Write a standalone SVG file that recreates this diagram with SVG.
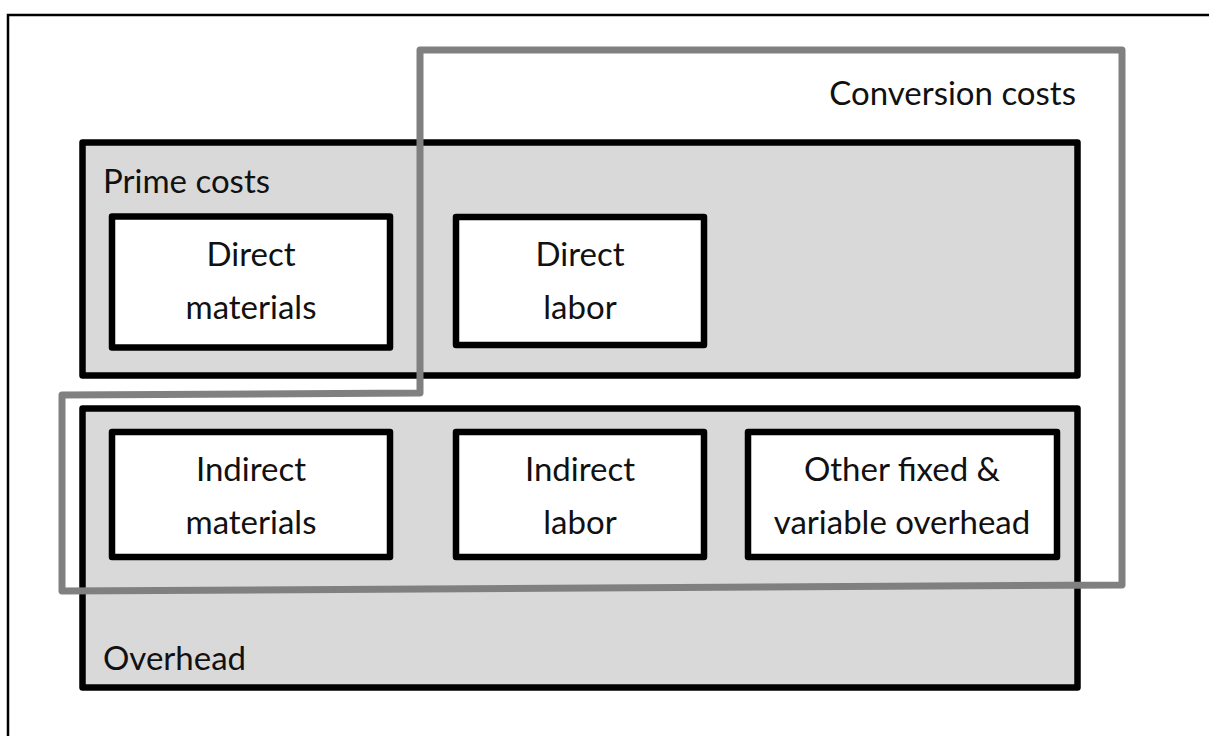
<svg xmlns="http://www.w3.org/2000/svg" width="1209" height="736" viewBox="0 0 1209 736">
<style>
.grp{fill:#d9d9d9;stroke:#000;stroke-width:6.5;stroke-linejoin:round}
.box{fill:#fff;stroke:#000;stroke-width:6.5;stroke-linejoin:round}
.t{font-family:Lato,"Open Sans",sans-serif;font-size:33px;fill:#111}
.c{text-anchor:middle}
.conv{fill:none;stroke:#808080;stroke-width:7;stroke-linejoin:round}
</style>
<rect x="0" y="0" width="1209" height="736" fill="#fff"/>
<g id="frame">
<path d="M8,736 V15 H1209" fill="none" stroke="#000" stroke-width="2.5"/>
</g>
<g id="prime-costs">
<rect class="grp" x="82.5" y="142.5" width="995" height="233"/>
<text class="t" x="103" y="193">Prime costs</text>
</g>
<g id="overhead">
<rect class="grp" x="82.5" y="408.5" width="995" height="279"/>
<text class="t" x="103" y="670">Overhead</text>
</g>
<g id="direct-materials">
<rect class="box" x="112" y="216.5" width="278" height="131"/>
<text class="t c" x="251" y="266">Direct</text>
<text class="t c" x="251" y="319">materials</text>
</g>
<g id="direct-labor">
<rect class="box" x="456" y="217" width="248" height="128"/>
<text class="t c" x="580" y="266">Direct</text>
<text class="t c" x="580" y="319">labor</text>
</g>
<g id="indirect-materials">
<rect class="box" x="112" y="432" width="278" height="125"/>
<text class="t c" x="251" y="481">Indirect</text>
<text class="t c" x="251" y="534">materials</text>
</g>
<g id="indirect-labor">
<rect class="box" x="456" y="432" width="248" height="125"/>
<text class="t c" x="580" y="481">Indirect</text>
<text class="t c" x="580" y="534">labor</text>
</g>
<g id="other-overhead">
<rect class="box" x="748" y="432" width="309" height="125"/>
<text class="t c" x="902" y="481">Other fixed &amp;</text>
<text class="t c" x="902" y="534">variable overhead</text>
</g>
<g id="conversion-costs">
<path class="conv" d="M420,393 V50 H1122 V585 L62,591 V395 Z"/>
<text class="t" x="1076" y="105" text-anchor="end">Conversion costs</text>
</g>
</svg>
